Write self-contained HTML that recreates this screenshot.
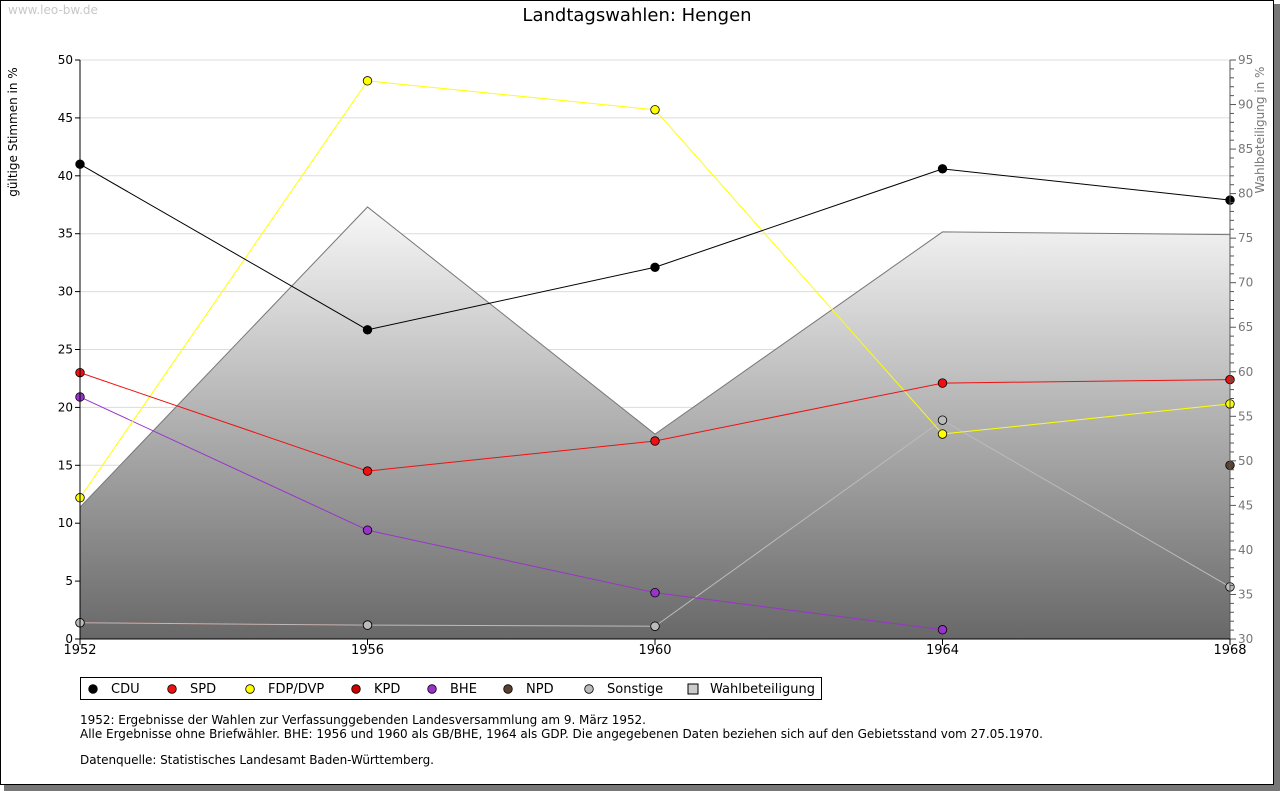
<!DOCTYPE html>
<html><head><meta charset="utf-8"><style>
body{margin:0;background:#fff;}
svg{display:block;font-family:"DejaVu Sans","Liberation Sans",sans-serif;}
</style></head><body>
<svg id="chart" width="1280" height="791" viewBox="0 0 1280 791">
<defs>
<linearGradient id="wg" gradientUnits="userSpaceOnUse" x1="0" y1="200" x2="0" y2="639">
<stop offset="0" stop-color="#fafafa"/><stop offset="1" stop-color="#686868"/>
</linearGradient>
</defs>
<rect x="4" y="4" width="1276" height="787" fill="#777"/>
<rect x="0.5" y="0.5" width="1273" height="784" fill="#fff" stroke="#000"/>
<text x="8" y="14" font-size="12" fill="#c8c8c8">www.leo-bw.de</text>
<text x="637" y="21" font-size="18" text-anchor="middle" fill="#000">Landtagswahlen: Hengen</text>
<text transform="translate(17,132) rotate(-90)" font-size="12" text-anchor="middle">gültige Stimmen in %</text>
<text transform="translate(1264,130) rotate(-90)" font-size="12" text-anchor="middle" fill="#777">Wahlbeteiligung in %</text>
<g id="grid"></g>
<g id="area"></g>
<g id="lines"></g>
<g id="axes"></g>
<g id="legend"></g>
<text x="80" y="724" font-size="12" textLength="566">1952: Ergebnisse der Wahlen zur Verfassunggebenden Landesversammlung am 9. März 1952.</text>
<text x="80" y="738" font-size="12" textLength="963">Alle Ergebnisse ohne Briefwähler. BHE: 1956 und 1960 als GB/BHE, 1964 als GDP. Die angegebenen Daten beziehen sich auf den Gebietsstand vom 27.05.1970.</text>
<text x="80" y="764" font-size="12" textLength="354">Datenquelle: Statistisches Landesamt Baden-Württemberg.</text>
</svg>
<script>
const years = [1952, 1956, 1960, 1964, 1968];
const cdu = [41.0, 26.7, 32.1, 40.6, 37.9];
const spd = [23.0, 14.5, 17.1, 22.1, 22.4];
const fdp = [12.2, 48.2, 45.7, 17.7, 20.3];
const kpd = [1.4, 1.2, null, null, null];
const bhe = [20.9, 9.4, 4.0, 0.8, null];
const npd = [null, null, null, null, 15.0];
const sonstige = [1.4, 1.2, 1.1, 18.9, 4.5];
const turnout = [44.8, 78.5, 53.0, 75.7, 75.4];
const leftTicks = [0, 5, 10, 15, 20, 25, 30, 35, 40, 45, 50];
const rightTicks = [30, 35, 40, 45, 50, 55, 60, 65, 70, 75, 80, 85, 90, 95];

const NS = "http://www.w3.org/2000/svg";
const X0 = 80, X1 = 1230, YT = 60, YB = 639;
const xs = y => X0 + (y - years[0]) / (years[years.length-1] - years[0]) * (X1 - X0);
const ys = v => YB - v / 50 * (YB - YT);
const ys2 = v => YB - (v - 30) / 65 * (YB - YT);
function mk(tag, attrs, parent) {
  const e = document.createElementNS(NS, tag);
  for (const k in attrs) e.setAttribute(k, attrs[k]);
  parent.appendChild(e); return e;
}
const grid = document.getElementById('grid');
const area = document.getElementById('area');
const lines = document.getElementById('lines');
const axes = document.getElementById('axes');
const legend = document.getElementById('legend');

leftTicks.forEach(t => {
  if (t > 0) {
    const g = mk('line', {x1: X0, x2: X1, y1: ys(t), y2: ys(t), stroke: '#dcdcdc'}, grid);
    
    
  }
  mk('line', {x1: X0-5, x2: X0, y1: ys(t), y2: ys(t), stroke: '#000'}, axes);
  const tx = mk('text', {x: X0-7, y: ys(t)+4, 'font-size': 12, 'text-anchor': 'end'}, axes);
  tx.textContent = t;
  
  
});
for (let v = 30; v <= 95; v++) {
  mk('line', {x1: X1, x2: X1 + (v % 5 === 0 ? 6 : 4), y1: ys2(v), y2: ys2(v), stroke: '#555'}, axes);
}
rightTicks.forEach(t => {
  const tx = mk('text', {x: X1+8, y: ys2(t)+4, 'font-size': 12, fill: '#777'}, axes);
  tx.textContent = t;
  
  
});
mk('line', {x1: X0, x2: X0, y1: YT, y2: YB, stroke: '#000'}, axes);
mk('line', {x1: X1, x2: X1, y1: YT, y2: YB, stroke: '#555'}, axes);
mk('line', {x1: X0, x2: X1, y1: YB, y2: YB, stroke: '#000'}, axes);
years.forEach(y => {
  mk('line', {x1: xs(y), x2: xs(y), y1: YB, y2: YB+6, stroke: '#000'}, axes);
  const tx = mk('text', {x: xs(y), y: YB+15, 'font-size': 13, 'text-anchor': 'middle'}, axes);
  tx.textContent = y;
  
  
});

let d = `M${xs(years[0])},${YB}`;
years.forEach((y,i) => d += ` L${xs(y)},${ys2(turnout[i])}`);
d += ` L${xs(years[years.length-1])},${YB} Z`;
const ar = mk('path', {d: d, fill: 'url(#wg)'}, area);


let d2 = '';
years.forEach((y,i) => d2 += (i ? ' L' : 'M') + xs(y) + ',' + ys2(turnout[i]));
mk('path', {d: d2, fill: 'none', stroke: '#777', 'stroke-width': 1}, area);

const series = [
  {name: 'kpd', vals: kpd, color: '#d03030', mark: '#cc0000'},
  {name: 'sonstige', vals: sonstige, color: '#bbbbbb', mark: '#bbbbbb'},
  {name: 'npd', vals: npd, color: '#5a4030', mark: '#5a4030'},
  {name: 'bhe', vals: bhe, color: '#9933cc', mark: '#9933cc'},
  {name: 'fdp', vals: fdp, color: '#ffff00', mark: '#ffff00'},
  {name: 'spd', vals: spd, color: '#ee1111', mark: '#ee1111'},
  {name: 'cdu', vals: cdu, color: '#000000', mark: '#000000'}
];
function marker(cx, cy, fill, parent) {
  return mk('circle', {cx: cx, cy: cy, r: 4.3, fill: fill, stroke: '#000', 'stroke-width': 0.8}, parent);
}
series.forEach(s => {
  let p = '', started = false;
  s.vals.forEach((v,i) => {
    if (v === null) { started = false; return; }
    p += (started ? ' L' : ' M') + xs(years[i]) + ',' + ys(v);
    started = true;
  });
  const ln = mk('path', {d: p, fill: 'none', stroke: s.color, 'stroke-width': 1}, lines);
  
  
});
series.forEach(s => {
  s.vals.forEach((v,i) => {
    if (v === null) return;
    const m = marker(xs(years[i]), ys(v), s.mark, lines);
    
    
  });
});

mk('rect', {x: 80.5, y: 677.5, width: 741, height: 22, fill: '#fff', stroke: '#000'}, legend);
const legItems = [
  ['CDU', '#000000', 93, 111], ['SPD', '#ee1111', 172, 190], ['FDP/DVP', '#ffff00', 250, 268],
  ['KPD', '#cc0000', 356, 374], ['BHE', '#9933cc', 432, 450], ['NPD', '#5a4030', 508, 526],
  ['Sonstige', '#bbbbbb', 589, 607]
];
legItems.forEach(it => {
  const m = marker(it[2], 689, it[1], legend);
  
  
  const t = mk('text', {x: it[3], y: 693, 'font-size': 13}, legend);
  t.textContent = it[0];
  
  
});
const sq = mk('rect', {x: 688, y: 684, width: 10, height: 10, fill: '#cccccc', stroke: '#000'}, legend);


const wt = mk('text', {x: 710, y: 693, 'font-size': 13}, legend);
wt.textContent = 'Wahlbeteiligung';


</script>
</body></html>
